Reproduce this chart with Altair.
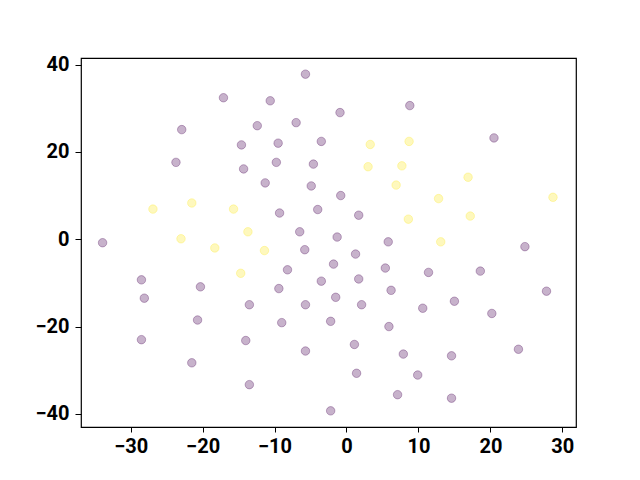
import altair as alt
import pandas as pd

purple_x = [-5.7, -17.1, -10.6, 8.8, -0.9, -22.9, -12.4, -7.0, 20.5, -3.5, -14.6, -9.5,
            -23.7, -14.3, -9.75, -4.6, -11.3, -4.9, -0.8, -9.3, -4.0, 1.7, -6.5, -1.3,
            -33.9, 5.8, 24.8, -5.8,
            -8.2, -3.5, -28.5, -28.1, -20.3, -9.4, -13.5, -5.7, -20.7, -9.0, -28.5, -14.0,
            -5.7, -21.5, -13.5,
            1.26, -1.8, 5.4, 11.4, 18.6, 1.7, 6.2, 27.8, -1.5, 2.1, 15.0, 10.6, 20.2,
            -2.2, 5.9, 1.1, 7.9, 14.6, 23.9, 1.4, 9.9, 7.1, 14.6, -2.2]
purple_y = [37.8, 32.4, 31.7, 30.6, 29.0, 25.1, 26.0, 26.7, 23.2, 22.4, 21.6, 22.0,
            17.6, 16.1, 17.6, 17.2, 12.9, 12.2, 10.0, 6.0, 6.8, 5.5, 1.7, 0.5,
            -0.8, -0.6, -1.7, -2.4,
            -7.0, -9.6, -9.3, -13.5, -10.9, -11.3, -15.0, -15.0, -18.5, -19.1, -23.0, -23.2,
            -25.6, -28.3, -33.3,
            -3.4, -5.7, -6.6, -7.6, -7.3, -9.1, -11.7, -11.9, -13.3, -15.0, -14.2, -15.8, -17.0,
            -18.8, -20.0, -24.1, -26.3, -26.7, -25.2, -30.7, -31.1, -35.6, -36.4, -39.3]

yellow_x = [-26.9, -21.5, -15.7, -13.7, -23.0, -18.3, -11.4, -14.7,
            3.3, 8.7, 3.0, 7.7, 6.9, 16.9, 12.8, 28.7, 17.2, 8.6, 13.1]
yellow_y = [6.9, 8.3, 6.9, 1.7, 0.1, -2.0, -2.6, -7.8,
            21.7, 22.4, 16.6, 16.8, 12.4, 14.2, 9.3, 9.6, 5.3, 4.6, -0.6]

x_ticks = [-30, -20, -10, 0, 10, 20, 30]
y_ticks = [-40, -20, 0, 20, 40]

df = pd.DataFrame({
    "x": purple_x + yellow_x,
    "y": purple_y + yellow_y,
    "c": [0] * len(purple_x) + [1] * len(yellow_x),
})

axis_common = dict(
    grid=False, domain=False, tickColor="black", tickWidth=1,
    labelFont="Roboto", labelFontWeight=700, labelFontSize=20, labelColor="black",
    title=None,
)

chart = alt.Chart(df).mark_circle(
    size=72, fillOpacity=0.3, strokeOpacity=0.3, strokeWidth=1
).encode(
    x=alt.X("x:Q", scale=alt.Scale(domain=[-36.9, 31.9], nice=False, zero=False),
            axis=alt.Axis(values=x_ticks, tickSize=5, labelPadding=4, **axis_common)),
    y=alt.Y("y:Q", scale=alt.Scale(domain=[-43.0, 41.5], nice=False, zero=False),
            axis=alt.Axis(values=y_ticks, tickSize=6, labelPadding=6, **axis_common)),
    color=alt.Color("c:N", scale=alt.Scale(domain=[0, 1], range=["#440154", "#fde725"]), legend=None),
    stroke=alt.Stroke("c:N", scale=alt.Scale(domain=[0, 1], range=["#440154", "#fde725"]), legend=None),
).properties(
    width=495, height=369,
    autosize=alt.AutoSizeParams(type="none"),
    padding={"left": 73, "top": 50, "right": 50, "bottom": 45},
).configure_view(stroke="black", strokeWidth=1.2)

chart.save("out.html", embed_options={"renderer": "svg", "actions": False})
